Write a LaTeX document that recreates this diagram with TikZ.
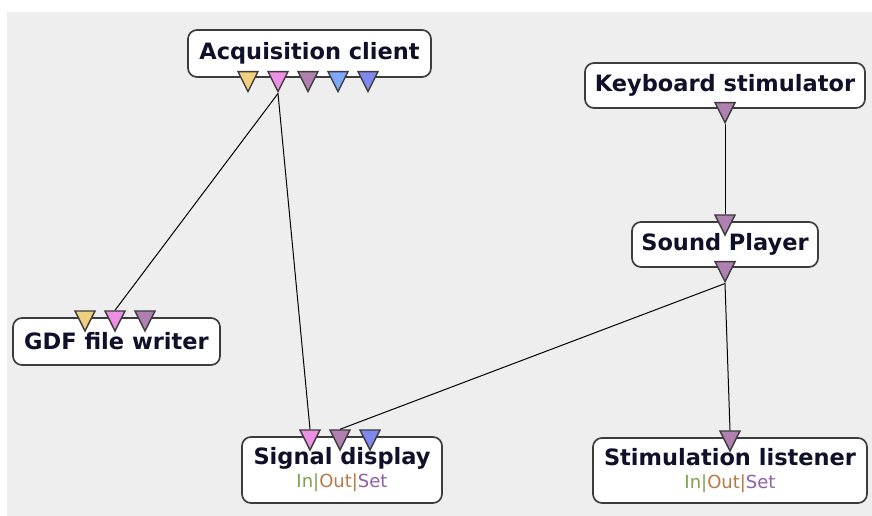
\documentclass[tikz,border=0pt]{standalone}
\usepackage{fontspec}
\setmainfont{DejaVu Sans}
\usetikzlibrary{shapes.geometric}
\definecolor{canvas}{HTML}{EEEEEE}
\definecolor{boxline}{HTML}{3C3C3C}
\definecolor{sigyellow}{HTML}{F0D080}
\definecolor{sigpink}{HTML}{EC90E4}
\definecolor{stimmauve}{HTML}{B080B0}
\definecolor{lightblue}{HTML}{80A8F8}
\definecolor{deepblue}{HTML}{8088F0}
\definecolor{ingreen}{HTML}{80A050}
\definecolor{outbrown}{HTML}{B87848}
\definecolor{setpurple}{HTML}{9060A8}
\definecolor{titleink}{HTML}{10102A}
\newcommand{\ioset}{{\fontsize{18}{19}\selectfont\mdseries
    {\color{ingreen}In|}{\color{outbrown}Out|}{\color{setpurple}Set}}}
\tikzset{
    boxnode/.style={
        draw=boxline,
        line width=1.7pt,
        fill=white,
        rounded corners=9pt,
        inner sep=0,
        align=center,
        text=titleink,
        font=\fontsize{22.5}{25}\selectfont\bfseries,
    },
    plug/.style={
        isosceles triangle,
        isosceles triangle stretches,
        shape border rotate=-90,
        draw=boxline,
        line width=1.4pt,
        inner sep=0,
        minimum width=20pt,
        minimum height=20pt,
        fill=#1,
    },
    link/.style={
        line width=1pt,
    },
}

\begin{document}
\begin{tikzpicture}[x=1pt, y=-1pt]
    \useasboundingbox (0,0) rectangle (872,516);
    \fill[canvas] (7,12) rectangle (872,516);

    % boxes
    \node[boxnode, minimum width=243pt, minimum height=47pt] (acq) at (309.5,53.5) {Acquisition client};
    \node[boxnode, minimum width=207pt, minimum height=47pt] (gdf) at (116.5,341.5) {GDF file writer};
    \node[boxnode, minimum width=200pt, minimum height=66pt] (sig) at (342,470) {Signal display\\[-2pt]\ioset};
    \node[boxnode, minimum width=274pt, minimum height=65pt] (stim) at (730,470.5) {Stimulation listener\\[-2pt]\ioset};
    \node[boxnode, minimum width=280pt, minimum height=45pt] (kbd) at (725,85.5) {Keyboard stimulator};
    \node[boxnode, minimum width=186pt, minimum height=45pt] (snd) at (725,244.5) {Sound Player};

    % outputs and inputs
    \node[plug=sigyellow] (acq-o1) at ([xshift=-61.5pt]acq.south) {};
    \node[plug=sigpink]   (acq-o2) at ([xshift=-31.5pt]acq.south) {};
    \node[plug=stimmauve] (acq-o3) at ([xshift=-1.5pt]acq.south) {};
    \node[plug=lightblue] (acq-o4) at ([xshift=28.5pt]acq.south) {};
    \node[plug=deepblue]  (acq-o5) at ([xshift=58.5pt]acq.south) {};

    \node[plug=sigyellow] (gdf-i1) at ([xshift=-31.5pt]gdf.north) {};
    \node[plug=sigpink]   (gdf-i2) at ([xshift=-1.5pt]gdf.north) {};
    \node[plug=stimmauve] (gdf-i3) at ([xshift=28.5pt]gdf.north) {};

    \node[plug=sigpink]   (sig-i1) at ([xshift=-32pt]sig.north) {};
    \node[plug=stimmauve] (sig-i2) at ([xshift=-2pt]sig.north) {};
    \node[plug=deepblue]  (sig-i3) at ([xshift=28pt]sig.north) {};

    \node[plug=stimmauve] (stim-i1) at (stim.north) {};
    \node[plug=stimmauve] (kbd-o1) at (kbd.south) {};
    \node[plug=stimmauve] (snd-i1) at (snd.north) {};
    \node[plug=stimmauve] (snd-o1) at (snd.south) {};

    % links
    \draw[link] (acq-o2.apex) -- (gdf-i2.lower side);
    \draw[link] (acq-o2.apex) -- (sig-i1.lower side);
    \draw[link] (kbd-o1.apex) -- (snd-i1.lower side);
    \draw[link] (snd-o1.apex) -- (stim-i1.lower side);
    \draw[link] (snd-o1.apex) -- (sig-i2.lower side);
\end{tikzpicture}
\end{document}
